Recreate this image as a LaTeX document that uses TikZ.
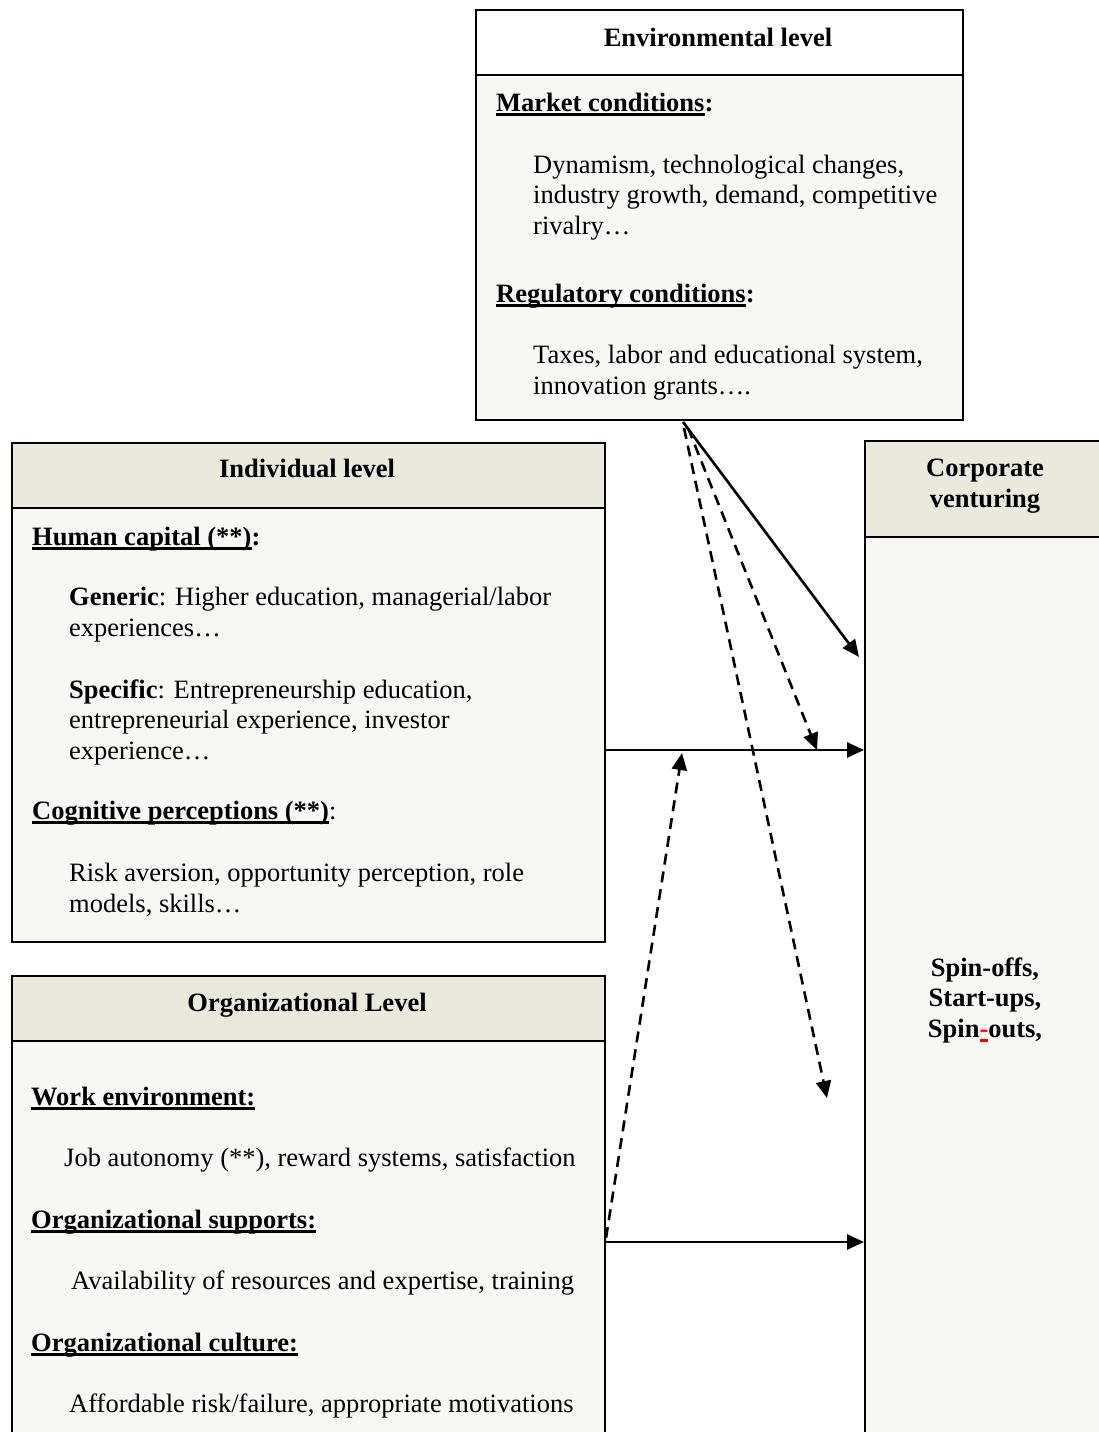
\documentclass[tikz,border=0pt]{standalone}
\usepackage{fontspec}
\setmainfont{Liberation Serif}
\usetikzlibrary{arrows.meta}
\definecolor{headbg}{HTML}{EBE8DE}
\definecolor{bodybg}{HTML}{F7F7F4}
% bold heading with a heavy underline drawn at a fixed depth
\newcommand\ulx[1]{\setbox0\hbox{#1}\rlap{\rule[-5pt]{\wd0}{2.8pt}}\box0}
\newcommand\ulred[1]{\setbox0\hbox{#1}\rlap{\color{red}\rule[-5pt]{\wd0}{2.8pt}}\box0}
\begin{document}
\begin{tikzpicture}[x=1pt,y=-1pt,
  panel/.style={draw=black,line width=2pt,anchor=north west,inner sep=0pt,
    fill=bodybg},
  sep/.style={line width=2pt},
  txt/.style={anchor=base west,inner sep=0pt,align=left,
    font=\fontsize{26.5}{30.5}\selectfont},
  headtxt/.style={anchor=base,inner sep=0pt,align=center,
    font=\fontsize{26.5}{30.5}\selectfont\bfseries},
  link/.style={line width=2.6pt,-{Triangle[length=17pt,width=15pt]}},
  dlink/.style={link,dash pattern=on 11pt off 7pt}]
\useasboundingbox (0,0) rectangle (1099,1432);
\fill[white] (0,0) rectangle (1099,1432);

% ---------- boxes ----------
\node[panel,minimum width=487pt,minimum height=410pt,
  path picture={\fill[white] (path picture bounding box.north west) rectangle ([yshift=-66pt]path picture bounding box.north east);}]
  (env) at (475,9) {};
\draw[sep] ([yshift=-66pt]env.north west) -- ([yshift=-66pt]env.north east);

\node[panel,minimum width=593pt,minimum height=499pt,
  path picture={\fill[headbg] (path picture bounding box.north west) rectangle ([yshift=-66pt]path picture bounding box.north east);}]
  (ind) at (11,442) {};
\draw[sep] ([yshift=-66pt]ind.north west) -- ([yshift=-66pt]ind.north east);

\node[panel,minimum width=593pt,minimum height=480pt,
  path picture={\fill[headbg] (path picture bounding box.north west) rectangle ([yshift=-66pt]path picture bounding box.north east);}]
  (org) at (11,975) {};
\draw[sep] ([yshift=-66pt]org.north west) -- ([yshift=-66pt]org.north east);

\node[panel,minimum width=260pt,minimum height=1010pt,
  path picture={\fill[headbg] (path picture bounding box.north west) rectangle ([yshift=-97pt]path picture bounding box.north east);}]
  (corp) at (864,440) {};
\draw[sep] ([yshift=-97pt]corp.north west) -- ([yshift=-97pt]corp.north east);

% ---------- environmental level (multi-line nodes sit on their last baseline) ----------
\node[headtxt] (envH) at (718,46) {Environmental level};
\node[txt] (envM) at (496,111) {\textbf{\ulx{Market conditions}:}};
\node[txt] (envMt) at (533,234) {Dynamism, technological changes,\\industry growth, demand, competitive\\rivalry…};
\node[txt] (envR) at (496,302) {\textbf{\ulx{Regulatory conditions}:}};
\node[txt] (envRt) at (533,394) {Taxes, labor and educational system,\\innovation grants….};

% ---------- individual level ----------
\node[headtxt] (indH) at (307,477) {Individual level};
\node[txt] (indHC) at (32,545) {\textbf{\ulx{Human capital (**)}:}};
\node[txt] (indG) at (69,636) {\textbf{Generic}: Higher education, managerial/labor\\experiences…};
\node[txt] (indS) at (69,759) {\textbf{Specific}: Entrepreneurship education,\\entrepreneurial experience, investor\\experience…};
\node[txt] (indC) at (32,819) {\textbf{\ulx{Cognitive perceptions (**)}}:};
\node[txt] (indCt) at (69,912) {Risk aversion, opportunity perception, role\\models, skills…};

% ---------- organizational level ----------
\node[headtxt] (orgH) at (307,1011) {Organizational Level};
\node[txt] (orgW) at (31,1105) {\textbf{\ulx{Work environment:}}};
\node[txt] (orgWt) at (64,1166) {Job autonomy (**), reward systems, satisfaction};
\node[txt] (orgS) at (31,1228) {\textbf{\ulx{Organizational supports:}}};
\node[txt] (orgSt) at (71,1289) {Availability of resources and expertise, training};
\node[txt] (orgC) at (31,1351) {\textbf{\ulx{Organizational culture:}}};
\node[txt] (orgCt) at (69,1412) {Affordable risk/failure, appropriate motivations};

% ---------- corporate venturing ----------
\node[headtxt] (corpH) at (985,507) {Corporate\\venturing};
\node[headtxt] (corpT) at (985,1037) {Spin-offs,\\Start-ups,\\Spin\textcolor{red}{\ulred{-}}outs,};

% ---------- connectors ----------
\coordinate (envA) at (683,422);
\coordinate (envB) at (688,428);
\coordinate (envC) at (684,428);
\coordinate (corpA) at (859,657);
\coordinate (corpB) at (817,750);
\coordinate (corpC) at (827,1098);
\coordinate (indOut) at (604,750);
\coordinate (orgOut) at (604,1242);
\coordinate (orgUp) at (606,1238);
\coordinate (linkTop) at (682,753);

\draw[link] (envA) -- (corpA);
\draw[dlink] (envB) -- (corpB);
\draw[dlink] (envC) -- (corpC);
\draw[link] (indOut) -- (corp.west |- indOut);
\draw[dlink] (orgUp) -- (linkTop);
\draw[link] (orgOut) -- (corp.west |- orgOut);
\end{tikzpicture}
\end{document}
